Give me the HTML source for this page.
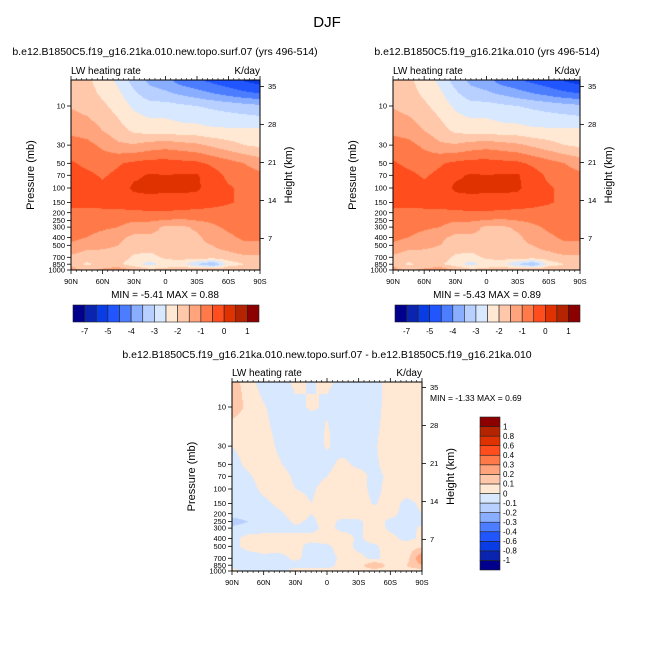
<!DOCTYPE html>
<html><head><meta charset="utf-8">
<style>
body{margin:0;background:#fff;}
#wrap{position:relative;width:654px;height:654px;overflow:hidden;font-family:"Liberation Sans",Arial,sans-serif;}
svg text{font-family:"Liberation Sans",Arial,sans-serif;fill:#000;}
canvas{position:absolute;}
</style></head>
<body>
<div id="wrap">
<canvas id="c1"></canvas>
<canvas id="c2"></canvas>
<canvas id="c3"></canvas>
<svg id="s" width="654" height="654" style="position:absolute;left:0;top:0"></svg>
</div>
<script>
// ---------- data ----------
const lats = [90,75,60,45,30,15,0,-15,-30,-45,-60,-75,-90];
const pLevels = [5,7,10,20,30,50,70,100,150,200,250,300,400,500,700,850,1000];
const xTickLabels = ["90N","60N","30N","0","30S","60S","90S"];
const xTickLats = [90,60,30,0,-30,-60,-90];
const pTickLabels = [10,30,50,70,100,150,200,250,300,400,500,700,850,1000];
const kmTickLabels = [35,28,21,14,7];
const mainLevels = [-7,-6,-5,-4.5,-4,-3.5,-3,-2.5,-2,-1.5,-1,-0.5,0,0.5,1];
const mainBarLabels = ["-7","-5","-4","-3","-2","-1","0","1"];
const mainBarLabelIdx = [0,2,4,6,8,10,12,14];
const diffLevels = [-1,-0.8,-0.6,-0.4,-0.3,-0.2,-0.1,0,0.1,0.2,0.3,0.4,0.6,0.8,1];
const diffBarLabels = ["-1","-0.8","-0.6","-0.4","-0.3","-0.2","-0.1","0","0.1","0.2","0.3","0.4","0.6","0.8","1"];
const colors = ["#00008c","#0a24b0","#0a3ce6","#2156ff","#4c7dff","#8aaeff","#b8d0ff","#d8e9ff","#ffe8d4","#ffc8aa","#ffa47c","#ff7a48","#ff4d1e","#e03200","#b42400","#8c0000"];

const fieldExp = [
 [-1.7,-1.9,-2.2,-2.6,-3.2,-3.6,-3.8,-4.2,-4.4,-4.6,-4.8,-5.0,-5.2],
 [-1.65,-1.8,-2.1,-2.4,-2.9,-3.3,-3.4,-3.6,-3.8,-4.0,-4.2,-4.4,-4.5],
 [-1.55,-1.7,-1.9,-2.2,-2.6,-2.8,-2.8,-2.9,-3.0,-3.1,-3.2,-3.3,-3.4],
 [-1.1,-1.2,-1.5,-1.8,-2.1,-2.2,-2.2,-2.3,-2.3,-2.4,-2.4,-2.4,-2.4],
 [-0.8,-0.85,-1.1,-1.4,-1.45,-1.3,-1.2,-1.3,-1.4,-1.6,-1.8,-2.0,-2.1],
 [-0.45,-0.6,-0.7,-0.55,-0.4,-0.3,-0.3,-0.35,-0.4,-0.6,-0.8,-1.0,-1.2],
 [-0.3,-0.4,-0.55,-0.4,-0.1,0.05,0.0,0.05,0.05,-0.3,-0.6,-0.8,-0.9],
 [-0.3,-0.3,-0.4,-0.3,0.1,0.15,0.1,0.15,0.1,-0.3,-0.45,-0.6,-0.6],
 [-0.4,-0.4,-0.35,-0.3,-0.25,-0.2,-0.2,-0.25,-0.3,-0.35,-0.45,-0.6,-0.7],
 [-0.6,-0.6,-0.6,-0.6,-0.6,-0.55,-0.55,-0.6,-0.6,-0.65,-0.7,-0.8,-0.8],
 [-0.7,-0.7,-0.75,-0.8,-0.95,-0.95,-1.05,-1.1,-1.0,-0.9,-0.8,-0.8,-0.8],
 [-0.8,-0.8,-0.9,-1.0,-1.3,-1.3,-1.6,-1.6,-1.4,-1.1,-0.9,-0.8,-0.8],
 [-0.85,-1.0,-1.2,-1.4,-1.6,-1.6,-1.6,-1.7,-1.6,-1.3,-1.1,-0.9,-0.9],
 [-1.1,-1.3,-1.4,-1.5,-1.7,-1.7,-1.6,-1.6,-1.6,-1.5,-1.3,-1.1,-1.1],
 [-1.6,-1.8,-1.7,-1.7,-2.1,-2.2,-1.9,-1.8,-1.7,-1.7,-1.7,-1.6,-1.6],
 [-1.6,-2.1,-1.8,-1.9,-2.3,-2.7,-2.3,-2.3,-3.0,-3.6,-2.3,-2.0,-2.0],
 [-1.3,-1.6,-1.4,-1.1,-1.5,-1.8,-1.8,-1.6,-1.5,-1.4,-1.5,-1.6,-1.6]
];
const fieldCtl = [
 [-1.7,-1.9,-2.2,-2.6,-3.2,-3.6,-3.8,-4.2,-4.4,-4.6,-4.8,-5.0,-5.2],
 [-1.65,-1.8,-2.1,-2.4,-2.9,-3.3,-3.4,-3.6,-3.8,-4.0,-4.2,-4.4,-4.5],
 [-1.55,-1.7,-1.9,-2.2,-2.6,-2.8,-2.8,-2.9,-3.0,-3.1,-3.2,-3.3,-3.4],
 [-1.1,-1.2,-1.5,-1.8,-2.1,-2.2,-2.2,-2.3,-2.3,-2.4,-2.4,-2.4,-2.4],
 [-0.8,-0.85,-1.1,-1.4,-1.45,-1.3,-1.2,-1.3,-1.4,-1.6,-1.8,-2.0,-2.1],
 [-0.45,-0.6,-0.7,-0.55,-0.4,-0.3,-0.3,-0.35,-0.4,-0.6,-0.8,-1.0,-1.2],
 [-0.3,-0.4,-0.55,-0.4,-0.1,0.05,0.0,0.05,0.05,-0.3,-0.6,-0.8,-0.9],
 [-0.3,-0.3,-0.4,-0.3,0.1,0.15,0.1,0.15,0.1,-0.3,-0.45,-0.6,-0.6],
 [-0.4,-0.4,-0.35,-0.3,-0.25,-0.2,-0.2,-0.25,-0.3,-0.35,-0.45,-0.6,-0.7],
 [-0.6,-0.6,-0.6,-0.6,-0.6,-0.55,-0.55,-0.6,-0.6,-0.65,-0.7,-0.8,-0.8],
 [-0.7,-0.7,-0.75,-0.8,-0.95,-0.95,-1.05,-1.1,-1.0,-0.9,-0.8,-0.8,-0.8],
 [-0.8,-0.8,-0.9,-1.0,-1.3,-1.3,-1.6,-1.6,-1.4,-1.1,-0.9,-0.8,-0.8],
 [-0.85,-1.0,-1.2,-1.4,-1.6,-1.6,-1.6,-1.7,-1.6,-1.3,-1.1,-0.9,-0.9],
 [-1.1,-1.3,-1.4,-1.5,-1.7,-1.7,-1.6,-1.6,-1.6,-1.5,-1.3,-1.1,-1.1],
 [-1.6,-1.8,-1.7,-1.7,-2.1,-2.2,-1.9,-1.8,-1.7,-1.7,-1.7,-1.6,-1.6],
 [-1.6,-2.1,-1.8,-1.9,-2.3,-2.7,-2.3,-2.3,-3.0,-3.6,-2.3,-2.0,-2.0],
 [-1.3,-1.6,-1.4,-1.1,-1.5,-1.8,-1.8,-1.6,-1.5,-1.4,-1.5,-1.6,-1.6]
];
const fieldDiff = [
 [0.15,0.05,-0.05,-0.05,0.02,-0.01,0.02,-0.03,-0.05,-0.05,0.05,0.05,0.05],
 [0.15,0.07,-0.02,-0.05,0.0,0.0,0.0,-0.04,-0.05,-0.05,0.05,0.05,0.05],
 [0.15,0.08,0.01,-0.05,-0.02,0.01,-0.01,-0.04,-0.05,-0.04,0.05,0.05,0.05],
 [0.05,0.05,0.03,-0.03,-0.05,-0.05,0.01,-0.05,-0.05,-0.02,0.05,0.05,0.05],
 [0.0,0.05,0.05,-0.02,-0.05,-0.05,0.01,-0.05,-0.05,-0.01,0.05,0.05,0.05],
 [-0.05,0.03,0.05,0.01,-0.05,-0.05,-0.03,0.03,-0.03,-0.02,0.05,0.05,0.05],
 [-0.05,-0.02,0.05,0.05,-0.02,-0.05,0.0,0.05,0.05,-0.04,0.03,0.05,0.05],
 [-0.05,-0.05,0.03,0.05,0.0,-0.02,0.05,0.05,0.05,-0.04,0.05,0.05,0.05],
 [-0.05,-0.05,-0.03,0.03,0.05,0.0,0.05,0.05,0.05,-0.01,0.05,-0.03,0.02],
 [-0.05,-0.05,-0.05,-0.02,0.05,0.0,0.03,0.05,0.05,0.05,0.04,-0.04,0.0],
 [-0.15,-0.1,-0.05,-0.05,0.02,-0.02,0.04,-0.03,-0.02,0.05,-0.03,-0.04,-0.02],
 [-0.08,-0.05,-0.05,-0.05,-0.02,-0.03,0.03,-0.03,-0.02,0.05,-0.02,-0.04,0.02],
 [-0.03,0.03,0.05,0.05,0.02,0.03,0.05,0.05,-0.02,0.05,0.03,-0.03,0.02],
 [-0.03,0.03,0.05,0.05,0.03,-0.03,-0.02,0.05,-0.03,-0.02,0.05,0.05,0.08],
 [-0.05,-0.05,-0.03,-0.04,0.03,-0.05,-0.05,0.03,0.03,-0.03,0.05,0.05,0.3],
 [-0.05,-0.05,-0.05,-0.05,-0.05,-0.05,-0.05,0.05,0.05,0.2,0.05,0.1,0.2],
 [0.05,-0.05,-0.05,-0.05,0.05,0.05,0.05,0.05,0.05,0.05,0.05,0.05,0.05]
];

// ---------- helpers ----------
const NS="http://www.w3.org/2000/svg";
const svg=document.getElementById('s');
function el(tag,attrs,parent){const e=document.createElementNS(NS,tag);for(const k in attrs)e.setAttribute(k,attrs[k]);(parent||svg).appendChild(e);return e;}
function txt(x,y,s,size,anchor,parent){const t=el('text',{x:x,y:y,'font-size':size,'text-anchor':anchor||'start'},parent);t.textContent=s;return t;}
function hex(c){return [parseInt(c.substr(1,2),16),parseInt(c.substr(3,2),16),parseInt(c.substr(5,2),16)];}
const rgb=colors.map(hex);
function colorIdx(v,levels){let i=0;while(i<levels.length&&v>=levels[i])i++;return i;}

function makePanel(P){
  const {x0,x1,yTop,y1000,field,levels,canvasId,name}=P;
  const dec=82;
  const yOfP=p=>y1000-dec*Math.log10(1000/p);
  const xOfLat=l=>x0+(90-l)/180*(x1-x0);
  const yOfKm=k=>y1000+6.5-5.43*k;
  const cv=document.getElementById(canvasId);
  const W=Math.round(x1-x0),H=Math.round(y1000-yTop);
  cv.width=W;cv.height=H;cv.style.left=x0+'px';cv.style.top=yTop+'px';
  const ctx=cv.getContext('2d');const img=ctx.createImageData(W,H);
  const lp=pLevels.map(p=>Math.log10(p));
  const nl=lats.length;
  for(let j=0;j<H;j++){
    const p=1000*Math.pow(10,-(y1000-(yTop+j+0.5))/dec);
    const L=Math.log10(Math.max(pLevels[0],Math.min(1000,p)));
    let k=0;while(k<lp.length-2&&L>lp[k+1])k++;
    const fy=(L-lp[k])/(lp[k+1]-lp[k]);
    for(let i=0;i<W;i++){
      const lat=90-(i+0.5)/W*180;
      const fx=(lats[0]-lat)/(lats[0]-lats[nl-1])*(nl-1);let m=Math.min(nl-2,Math.floor(fx));const tx=fx-m;
      const v=(field[k][m]*(1-tx)+field[k][m+1]*tx)*(1-fy)+(field[k+1][m]*(1-tx)+field[k+1][m+1]*tx)*fy;
      const c=rgb[colorIdx(v,levels)];const o=(j*W+i)*4;
      img.data[o]=c[0];img.data[o+1]=c[1];img.data[o+2]=c[2];img.data[o+3]=255;
    }
  }
  ctx.putImageData(img,0,0);
  const g=el('g',{});
  
  
  el('rect',{x:x0,y:yTop,width:x1-x0,height:y1000-yTop,fill:'none',stroke:'#000','stroke-width':1},g);
  xTickLats.forEach((l,i)=>{
    const x=xOfLat(l);
    el('line',{x1:x,y1:y1000,x2:x,y2:y1000+4,stroke:'#000','stroke-width':0.8},g);
    el('line',{x1:x,y1:yTop,x2:x,y2:yTop-4,stroke:'#000','stroke-width':0.8},g);
    const t=txt(x,y1000+14,xTickLabels[i],7.5,'middle',g);
    
    
  });
  for(let l=85;l>-90;l-=5){if(l%30===0)continue;const x=xOfLat(l);
    el('line',{x1:x,y1:y1000,x2:x,y2:y1000+2,stroke:'#000','stroke-width':0.6},g);
    el('line',{x1:x,y1:yTop,x2:x,y2:yTop-2,stroke:'#000','stroke-width':0.6},g);}
  pTickLabels.forEach(p=>{
    const y=yOfP(p);
    el('line',{x1:x0,y1:y,x2:x0-4,y2:y,stroke:'#000','stroke-width':0.8},g);
    const t=txt(x0-6,y+2.6,String(p),7.5,'end',g);
    
    
  });
  kmTickLabels.forEach(k=>{
    const y=yOfKm(k);
    el('line',{x1:x1,y1:y,x2:x1+4,y2:y,stroke:'#000','stroke-width':0.8},g);
    const t=txt(x1+8,y+2.6,String(k),7.5,'start',g);
    
    
  });
  const cy=(yTop+y1000)/2;
  const ya=txt(0,0,'Pressure (mb)',11,'middle',g);ya.setAttribute('transform',`translate(${x0-37},${cy}) rotate(-90)`);
  
  const yb=txt(0,0,'Height (km)',11,'middle',g);yb.setAttribute('transform',`translate(${x1+32},${cy}) rotate(-90)`);
  
  const l1=txt(x0,yTop-6,'LW heating rate',10,'start',g);
  
  const l2=txt(x1,yTop-6,'K/day',10,'end',g);
  
}

const tt=txt(327,27,'DJF',15,'middle');


makePanel({x0:71,x1:260,yTop:80,y1000:270,field:fieldExp,levels:mainLevels,canvasId:'c1',name:'experiment'});
makePanel({x0:393,x1:580,yTop:80,y1000:270,field:fieldCtl,levels:mainLevels,canvasId:'c2',name:'control'});
makePanel({x0:232,x1:422,yTop:382,y1000:571,field:fieldDiff,levels:diffLevels,canvasId:'c3',name:'difference'});

let t;
t=txt(165,55,'b.e12.B1850C5.f19_g16.21ka.010.new.topo.surf.07 (yrs 496-514)',10.5,'middle');

t=txt(487,55,'b.e12.B1850C5.f19_g16.21ka.010 (yrs 496-514)',10.5,'middle');

t=txt(327,358,'b.e12.B1850C5.f19_g16.21ka.010.new.topo.surf.07 - b.e12.B1850C5.f19_g16.21ka.010',10.5,'middle');

t=txt(165,298,'MIN =  -5.41  MAX =   0.88',10,'middle');

t=txt(487,298,'MIN =  -5.43  MAX =   0.89',10,'middle');

t=txt(430,401,'MIN =  -1.33  MAX =   0.69',8.5,'start');


function hbar(x0,x1,name){
  const g=el('g',{});
  
  
  const n=colors.length,w=(x1-x0)/n;
  colors.forEach((c,i)=>el('rect',{x:x0+i*w,y:305,width:w,height:17,fill:c,stroke:'#222','stroke-width':0.6},g));
  mainBarLabelIdx.forEach((bi,i)=>{const s=txt(x0+(bi+1)*w,334,mainBarLabels[i],8,'middle',g);
    });
}
hbar(73,259,'experiment-colorbar');
hbar(395,580,'control-colorbar');
(function(){
  const g=el('g',{});
  
  
  const y0=417,y1=570,n=colors.length,h=(y1-y0)/n;
  colors.forEach((c,i)=>el('rect',{x:480,y:y1-(i+1)*h,width:20,height:h,fill:c,stroke:'#222','stroke-width':0.6},g));
  diffBarLabels.forEach((s,i)=>{const e=txt(503,y1-(i+1)*h+2.8,s,8,'start',g);
    });
})();
</script>
</body></html>
